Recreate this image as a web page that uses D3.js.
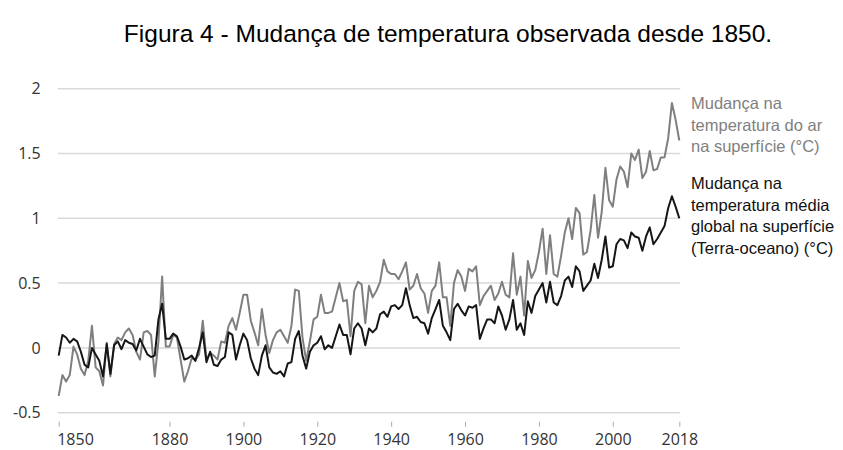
<!DOCTYPE html>
<html>
<head>
<meta charset="utf-8">
<script src="https://cdn.jsdelivr.net/npm/d3@7"></script>
<style>
  html, body { margin: 0; padding: 0; background: #fff; }
  svg { display: block; }
</style>
</head>
<body>
<svg id="chart" width="843" height="450"></svg>
<script>
// ---- data ----
const startYear = 1850;
const endYear = 2018;

const globalLandOcean = [
  -0.06, 0.10, 0.08, 0.04, 0.07, 0.05, -0.03, -0.13, -0.15, 0.00,   // 1850-1859
  -0.05, -0.10, -0.22, 0.03, -0.20, 0.02, 0.05, -0.01, 0.06, 0.04,  // 1860-1869
  0.03, -0.02, 0.07, 0.01, -0.05, -0.07, -0.06, 0.22, 0.34, 0.07,   // 1870-1879
  0.07, 0.11, 0.09, 0.01, -0.09, -0.08, -0.06, -0.10, 0.00, 0.12,   // 1880-1889
  -0.11, -0.03, -0.13, -0.14, -0.09, -0.07, 0.12, 0.10, -0.09, 0.02, // 1890-1899
  0.11, 0.06, -0.08, -0.16, -0.21, -0.06, 0.02, -0.15, -0.19, -0.20, // 1900-1909
  -0.18, -0.22, -0.12, -0.11, 0.07, 0.13, -0.06, -0.16, -0.03, 0.02, // 1910-1919
  0.04, 0.09, -0.01, 0.02, 0.00, 0.09, 0.18, 0.10, 0.10, -0.05,     // 1920-1929
  0.15, 0.19, 0.15, 0.02, 0.15, 0.12, 0.15, 0.26, 0.28, 0.24,       // 1930-1939
  0.32, 0.33, 0.30, 0.33, 0.46, 0.33, 0.23, 0.24, 0.20, 0.19,       // 1940-1949
  0.11, 0.23, 0.30, 0.37, 0.17, 0.12, 0.06, 0.30, 0.34, 0.29,       // 1950-1959
  0.25, 0.32, 0.31, 0.33, 0.07, 0.15, 0.22, 0.22, 0.19, 0.32,       // 1960-1969
  0.25, 0.14, 0.22, 0.37, 0.14, 0.19, 0.10, 0.36, 0.27, 0.40,       // 1970-1979
  0.45, 0.50, 0.35, 0.51, 0.35, 0.33, 0.40, 0.52, 0.55, 0.47,       // 1980-1989
  0.63, 0.59, 0.44, 0.48, 0.52, 0.65, 0.54, 0.68, 0.86, 0.62,       // 1990-1999
  0.63, 0.80, 0.84, 0.83, 0.77, 0.89, 0.86, 0.85, 0.75, 0.86,       // 2000-2009
  0.93, 0.80, 0.84, 0.89, 0.94, 1.08, 1.17, 1.09, 1.00              // 2010-2018
];

const landAir = [
  -0.37, -0.21, -0.26, -0.21, 0.01, -0.05, -0.16, -0.21, -0.10, 0.17, // 1850-1859
  -0.15, -0.18, -0.29, 0.04, -0.22, 0.03, 0.08, 0.06, 0.12, 0.15,     // 1860-1869
  0.10, -0.03, -0.09, 0.12, 0.13, 0.10, -0.22, 0.05, 0.55, 0.01,      // 1870-1879
  0.01, 0.10, 0.08, -0.09, -0.26, -0.18, -0.08, -0.09, -0.05, 0.21,   // 1880-1889
  -0.09, -0.04, -0.06, -0.09, 0.05, 0.04, 0.17, 0.23, 0.14, 0.27,     // 1890-1899
  0.41, 0.41, 0.21, 0.12, 0.02, 0.30, 0.10, -0.04, 0.06, 0.12,        // 1900-1909
  0.14, 0.09, 0.04, 0.17, 0.45, 0.44, 0.08, -0.10, 0.05, 0.22,        // 1910-1919
  0.24, 0.41, 0.27, 0.27, 0.28, 0.39, 0.50, 0.36, 0.37, 0.09,         // 1920-1929
  0.44, 0.51, 0.49, 0.19, 0.48, 0.39, 0.44, 0.51, 0.68, 0.59,         // 1930-1939
  0.57, 0.57, 0.53, 0.59, 0.66, 0.45, 0.48, 0.57, 0.46, 0.42,         // 1940-1949
  0.27, 0.44, 0.48, 0.66, 0.39, 0.39, 0.17, 0.50, 0.60, 0.55,         // 1950-1959
  0.44, 0.61, 0.59, 0.63, 0.33, 0.40, 0.44, 0.48, 0.37, 0.42,         // 1960-1969
  0.51, 0.41, 0.39, 0.73, 0.41, 0.55, 0.25, 0.67, 0.54, 0.60,         // 1970-1979
  0.74, 0.92, 0.57, 0.87, 0.57, 0.55, 0.71, 0.89, 1.00, 0.84,         // 1980-1989
  1.08, 1.04, 0.72, 0.74, 0.91, 1.18, 0.85, 1.05, 1.39, 1.14,         // 1990-1999
  1.09, 1.30, 1.40, 1.36, 1.24, 1.50, 1.45, 1.53, 1.31, 1.36,         // 2000-2009
  1.52, 1.37, 1.38, 1.47, 1.47, 1.62, 1.89, 1.76, 1.60                // 2010-2018
];

const yTicks = [-0.5, 0, 0.5, 1, 1.5, 2];
const xTicks = [1850, 1880, 1900, 1920, 1940, 1960, 1980, 2000, 2018];

const titleText = "Figura 4 - Mudança de temperatura observada desde 1850.";
const legendLand = ["Mudança na", "temperatura do ar", "na superfície (°C)"];
const legendGlobal = ["Mudança na", "temperatura média", "global na superfície", "(Terra-oceano) (°C)"];

// ---- drawing ----
const svg = d3.select("#chart");
const plotLeft = 58.7, plotRight = 679.3, plotTop = 88.7, plotBottom = 412.7;

const x = d3.scaleLinear().domain([startYear, endYear]).range([plotLeft, plotRight]);
const y = d3.scaleLinear().domain([-0.5, 2]).range([plotBottom, plotTop]);

// title
svg.append("text")
  .attr("x", 448)
  .attr("y", 42)
  .attr("text-anchor", "middle")
  .style("font-family", "'Liberation Sans', Arial, sans-serif")
  .style("font-size", "24.5px")
  .style("fill", "#000")
  .text(titleText);

// gridlines
svg.append("g")
  .selectAll("line")
  .data(yTicks)
  .join("line")
  .attr("x1", plotLeft - 1)
  .attr("x2", plotRight + 1)
  .attr("y1", d => y(d))
  .attr("y2", d => y(d))
  .attr("stroke", "#d9d9d9")
  .attr("stroke-width", 1.5);

// y axis labels
const yAxis = d3.axisLeft(y).tickValues(yTicks).tickSize(0).tickPadding(0)
  .tickFormat(d => String(d));
const gy = svg.append("g").attr("transform", `translate(40.7,0)`).call(yAxis);
gy.select(".domain").remove();
gy.selectAll("text")
  .style("font-family", "'Open Sans', sans-serif")
  .style("font-size", "16px")
  .style("fill", "#333");

// x axis
const xAxis = d3.axisBottom(x).tickValues(xTicks).tickSize(5).tickPadding(7)
  .tickFormat(d3.format("d"));
const gx = svg.append("g").attr("transform", `translate(0,${plotBottom + 9})`).call(xAxis);
gx.select(".domain").remove();
gx.selectAll(".tick line").attr("stroke", "#aaa").attr("stroke-width", 1);
gx.selectAll("text")
  .style("font-family", "'Open Sans', sans-serif")
  .style("font-size", "16px")
  .style("fill", "#333");
gx.selectAll("text")
  .filter(d => d === startYear)
  .attr("text-anchor", "start")
  .attr("x", -2);

// lines
const line = d3.line()
  .x((d, i) => x(startYear + i))
  .y(d => y(d));

svg.append("path")
  .datum(landAir)
  .attr("fill", "none")
  .attr("stroke", "#7f7f7f")
  .attr("stroke-width", 2)
  .attr("stroke-linejoin", "round")
  .attr("d", line);

svg.append("path")
  .datum(globalLandOcean)
  .attr("fill", "none")
  .attr("stroke", "#161616")
  .attr("stroke-width", 2)
  .attr("stroke-linejoin", "round")
  .attr("d", line);

// legend texts
const legendFont = "'Liberation Sans', Arial, sans-serif";
const lg1 = svg.append("text")
  .attr("x", 691)
  .attr("y", 109)
  .style("font-family", legendFont)
  .style("font-size", "16.5px")
  .style("fill", "#808080");
lg1.selectAll("tspan").data(legendLand).join("tspan")
  .attr("x", 691)
  .attr("dy", (d, i) => i === 0 ? 0 : 21.5)
  .text(d => d);

const lg2 = svg.append("text")
  .attr("x", 691)
  .attr("y", 189)
  .style("font-family", legendFont)
  .style("font-size", "16.5px")
  .style("fill", "#111");
lg2.selectAll("tspan").data(legendGlobal).join("tspan")
  .attr("x", 691)
  .attr("dy", (d, i) => i === 0 ? 0 : 21.7)
  .text(d => d);
</script>
</body>
</html>
